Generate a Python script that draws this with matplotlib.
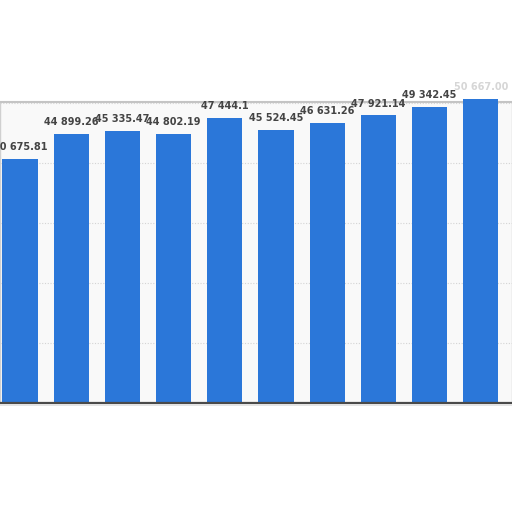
import matplotlib
matplotlib.use("Agg")
import matplotlib.pyplot as plt
from matplotlib.ticker import MultipleLocator

# bar values (last label is smudged, value estimated)
values = [40675.81, 44899.26, 45335.47, 44802.19, 47444.1,
          45524.45, 46631.26, 47921.14, 49342.45, 50667.0]
labels = ["40 675.81", "44 899.26", "45 335.47", "44 802.19", "47 444.1",
          "45 524.45", "46 631.26", "47 921.14", "49 342.45", "50 667.00"]
positions = list(range(len(values)))

bar_color = "#2b77d9"

fig = plt.figure(figsize=(5.12, 5.12), dpi=100)
ax = fig.add_axes([0, 109 / 512, 1, 301 / 512])
ax.set_facecolor("#f9f9f9")

bars = ax.bar(positions, values, width=0.69, color=bar_color, zorder=3, clip_on=False)

for i, (b, lab) in enumerate(zip(bars, labels)):
    last = i == len(values) - 1
    ax.annotate(lab, (b.get_x() + b.get_width() / 2, b.get_height()),
                xytext=(0, 5), textcoords="offset points",
                ha="center", va="bottom", fontsize=7, fontweight="bold",
                color="#d6d6d6" if last else "#444444",
                annotation_clip=False, zorder=4)

ax.set_xlim(-0.39, 9.61)
ax.set_ylim(0, 50167)
ax.yaxis.set_major_locator(MultipleLocator(10000))
ax.grid(axis="y", color="#d4d4d4", linestyle=(0, (1, 1.5)), linewidth=0.8, zorder=0)
ax.tick_params(left=False, bottom=False, labelleft=False, labelbottom=False)

for side in ("left", "right"):
    ax.spines[side].set_color("#d0d0d0")
    ax.spines[side].set_linewidth(1)
ax.spines["top"].set_color("#c4c4c4")
ax.spines["top"].set_linewidth(1.5)
ax.spines["bottom"].set_color("#4a4a4a")
ax.spines["bottom"].set_linewidth(1.6)
ax.spines["bottom"].set_zorder(5)

# soft shadow under the base line
fig.add_artist(plt.Line2D([0, 1], [107 / 512, 107 / 512], color="#e4e4e4",
                          linewidth=1.4, transform=fig.transFigure))

fig.savefig("out.png", dpi=100, facecolor="white")
